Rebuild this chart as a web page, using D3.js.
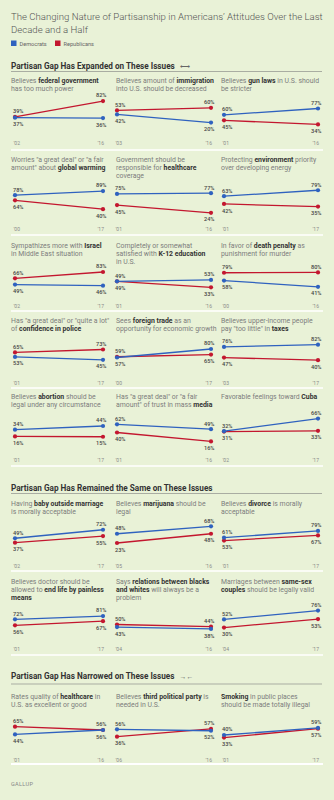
<!DOCTYPE html>
<html>
<head>
<meta charset="utf-8">
<script src="https://cdn.jsdelivr.net/npm/d3@7"></script>
<style>
body { margin: 0; background: #e9f2d7; }
svg { display: block; font-family: Roboto, "Open Sans", sans-serif; }
</style>
</head>
<body>
<script>
// small multiples: Democrats vs Republicans, first vs latest year

var sectionTitles = [
  "Partisan Gap Has Expanded on These Issues",
  "Partisan Gap Has Remained the Same on These Issues",
  "Partisan Gap Has Narrowed on These Issues"
];
var sectionMarks = ["\u27F7", "", "\u2192\u2190"];

// ** marks the bold part of each line
var titleLines = [
  ["Believes **federal government**", "has too much power"],
  ["Believes amount of **immigration**", "into U.S. should be decreased"],
  ["Believes **gun laws** in U.S. should", "be stricter"],
  ["Worries \"a great deal\" or \"a fair", "amount\" about **global warming**"],
  ["Government should be", "responsible for **healthcare**", "coverage"],
  ["Protecting **environment** priority", "over developing energy"],
  ["Sympathizes more with **Israel**", "in Middle East situation"],
  ["Completely or somewhat", "satisfied with **K-12 education**", "in U.S."],
  ["In favor of **death penalty** as", "punishment for murder"],
  ["Has \"a great deal\" or \"quite a lot\"", "of **confidence in police**"],
  ["Sees **foreign trade** as an", "opportunity for economic growth"],
  ["Believes upper-income people", "pay \"too little\" in **taxes**"],
  ["Believes **abortion** should be", "legal under any circumstance"],
  ["Has \"a great deal\" or \"a fair", "amount\" of trust in mass **media**"],
  ["Favorable feelings toward **Cuba**"],
  ["Having **baby outside marriage**", "is morally acceptable"],
  ["Believes **marijuana** should be", "legal"],
  ["Believes **divorce** is morally", "acceptable"],
  ["Believes doctor should be", "allowed to **end life by painless**", "**means**"],
  ["Says **relations between blacks**", "**and whites** will always be a", "problem"],
  ["Marriages between **same-sex**", "**couples** should be legally valid"],
  ["Rates quality of **healthcare** in", "U.S. as excellent or good"],
  ["Believes **third political party** is", "needed in U.S."],
  ["**Smoking** in public places", "should be made totally illegal"]
];

var startYears = ["'02","'03","'01", "'00","'01","'01", "'02","'01","'00", "'01","'00","'03",
                  "'01","'01","'02", "'02","'05","'01", "'01","'04","'04", "'01","'06","'01"];
var endYears   = ["'16","'16","'16", "'17","'16","'17", "'17","'16","'16", "'17","'17","'17",
                  "'17","'16","'17", "'17","'16","'17", "'17","'16","'17", "'16","'16","'17"];

var demValues = [
  [37,36],[42,20],[60,77],
  [78,89],[75,77],[63,79],
  [49,46],[49,53],[58,41],
  [53,45],[57,80],[76,82],
  [34,44],[62,49],[32,66],
  [49,72],[48,68],[61,79],
  [72,81],[43,38],[52,76],
  [44,56],[56,52],[40,59]
];
var repValues = [
  [39,82],[53,60],[45,34],
  [64,40],[45,24],[42,35],
  [66,83],[49,33],[79,80],
  [65,73],[59,65],[47,40],
  [16,15],[40,16],[31,33],
  [37,55],[23,48],[53,67],
  [56,67],[50,44],[30,53],
  [65,56],[36,57],[33,57]
];

// layout
var W = 334, H = 800;
var blue = "#2f62bf", red = "#c3172f";
var colX = [11, 116, 221];
var lineX = [[15, 103], [117, 211], [224, 318]];
var sectionRow = [0, 5, 7];                // first row of each section
var sectionY = [68.5, 490.5, 679];
var ruleY = [71.5, 493.5, 684];
var titleY = [83, 161.5, 248, 323, 399, 506, 584, 698.5];
var tickY = [144.5, 231, 308, 384.5, 462, 567.5, 650.5, 761.5];
var dividerY = [150, 235, 311, 388, 466, 571, 655, 764];
// y position of 0% for each panel
var plotBase = [131.4, 130, 137, 224, 221.7, 219.5, 302.7, 299.5, 302,
                376.5, 378.6, 375, 442.3, 447.3, 443, 556.4, 551.5, 560.2,
                646, 643, 638.7, 750.7, 750, 749.8];
var pxPerPct = 0.37;

var svg = d3.select("body").append("svg")
  .attr("width", W)
  .attr("height", H);

svg.append("rect").attr("width", W).attr("height", H).attr("fill", "#e9f2d7");

// main title
svg.append("text")
  .attr("x", 11).attr("y", 19.5)
  .attr("fill", "#555").style("font-size", "9.6px").style("font-weight", 300)
  .text("The Changing Nature of Partisanship in Americans\u2019 Attitudes Over the Last");
svg.append("text")
  .attr("x", 11).attr("y", 32.5)
  .attr("fill", "#555").style("font-size", "9.6px").style("font-weight", 300)
  .text("Decade and a Half");

// legend
var legend = [["Democrats", blue, 11], ["Republicans", red, 55]];
legend.forEach(function(l) {
  svg.append("rect").attr("x", l[2]).attr("y", 40.5).attr("width", 5.5).attr("height", 5.5).attr("fill", l[1]);
  svg.append("text").attr("x", l[2] + 8.5).attr("y", 45.5)
    .attr("fill", "#666").style("font-size", "5.6px").text(l[0]);
});

// section headers
sectionTitles.forEach(function(s, i) {
  var t = svg.append("text")
    .attr("x", 11).attr("y", sectionY[i])
    .attr("fill", "#333").style("font-size", "8.2px").style("font-weight", 700)
    .text(s);
  if (sectionMarks[i]) {
    t.append("tspan").attr("dx", 5).style("font-weight", 400).style("font-size", "7px")
      .attr("fill", "#666").text(sectionMarks[i]);
  }
  svg.append("line")
    .attr("x1", 11).attr("x2", 322)
    .attr("y1", ruleY[i]).attr("y2", ruleY[i])
    .attr("stroke", "#a9ada2").attr("stroke-width", 1);
});

// white row dividers
dividerY.forEach(function(y, i) {
  svg.append("line")
    .attr("x1", 11).attr("x2", 323)
    .attr("y1", y).attr("y2", y)
    .attr("stroke", "#fff").attr("stroke-width", i == dividerY.length - 1 ? 2 : 1.5);
});

var line = d3.line()
  .x(function(d) { return d.x; })
  .y(function(d) { return d.y; });

titleLines.forEach(function(lines, p) {
  var row = Math.floor(p / 3), col = p % 3;
  var g = svg.append("g");

  // panel title, with bold parts
  lines.forEach(function(txt, k) {
    var t = g.append("text")
      .attr("x", colX[col])
      .attr("y", titleY[row] + k * 8)
      .style("font-size", "6.9px")
      .attr("fill", "#7d7d7d");
    txt.split("**").forEach(function(part, j) {
      if (!part) return;
      t.append("tspan")
        .style("font-weight", j % 2 ? 700 : 400)
        .attr("fill", j % 2 ? "#333" : "#7d7d7d")
        .text(part);
    });
  });

  var years = [startYears[p], endYears[p]];
  var x = d3.scalePoint().domain(years).range(lineX[col]);
  var y = d3.scaleLinear().domain([0, 100])
    .range([plotBase[p], plotBase[p] - 100 * pxPerPct]);

  // year axis
  var ax = g.append("g")
    .attr("transform", "translate(0," + tickY[row] + ")")
    .call(d3.axisBottom(x).tickSize(0).tickPadding(0));
  ax.select(".domain").remove();
  ax.selectAll("text")
    .attr("y", 0).attr("dy", null)
    .attr("fill", "#8a8a8a")
    .style("font-size", "5px")
    .style("font-family", "Roboto, sans-serif")
    .attr("text-anchor", function(d, i) { return i == 0 ? "start" : "end"; })
    .attr("dx", function(d, i) { return i == 0 ? -2 : 0.5; });

  var series = [
    { vals: repValues[p], color: red },
    { vals: demValues[p], color: blue }
  ];

  series.forEach(function(s) {
    var pts = s.vals.map(function(v, i) { return { x: x(years[i]), y: y(v), v: v }; });
    g.append("path")
      .attr("d", line(pts))
      .attr("fill", "none")
      .attr("stroke", s.color)
      .attr("stroke-width", 1.3);
    g.selectAll(null).data(pts).enter()
      .append("circle")
      .attr("cx", function(d) { return d.x; })
      .attr("cy", function(d) { return d.y; })
      .attr("r", 2.1)
      .attr("fill", s.color);
  });

  // value labels: higher value above, lower below
  [0, 1].forEach(function(i) {
    var d = demValues[p][i], r = repValues[p][i];
    var hi = Math.max(d, r), lo = Math.min(d, r);
    var xx = x(years[i]) + (i == 0 ? -2 : 3.5);
    var anchor = i == 0 ? "start" : "end";
    g.append("text")
      .attr("x", xx).attr("y", y(hi) - 3.6)
      .attr("text-anchor", anchor)
      .attr("fill", "#444").style("font-size", "5.6px").style("font-weight", 500)
      .text(hi + "%");
    g.append("text")
      .attr("x", xx).attr("y", y(lo) + 8.6)
      .attr("text-anchor", anchor)
      .attr("fill", "#444").style("font-size", "5.6px").style("font-weight", 500)
      .text(lo + "%");
  });
});

svg.append("text")
  .attr("x", 11).attr("y", 785.5)
  .attr("fill", "#888").style("font-size", "5.6px").style("letter-spacing", "0.3px")
  .text("GALLUP");
</script>
</body>
</html>
